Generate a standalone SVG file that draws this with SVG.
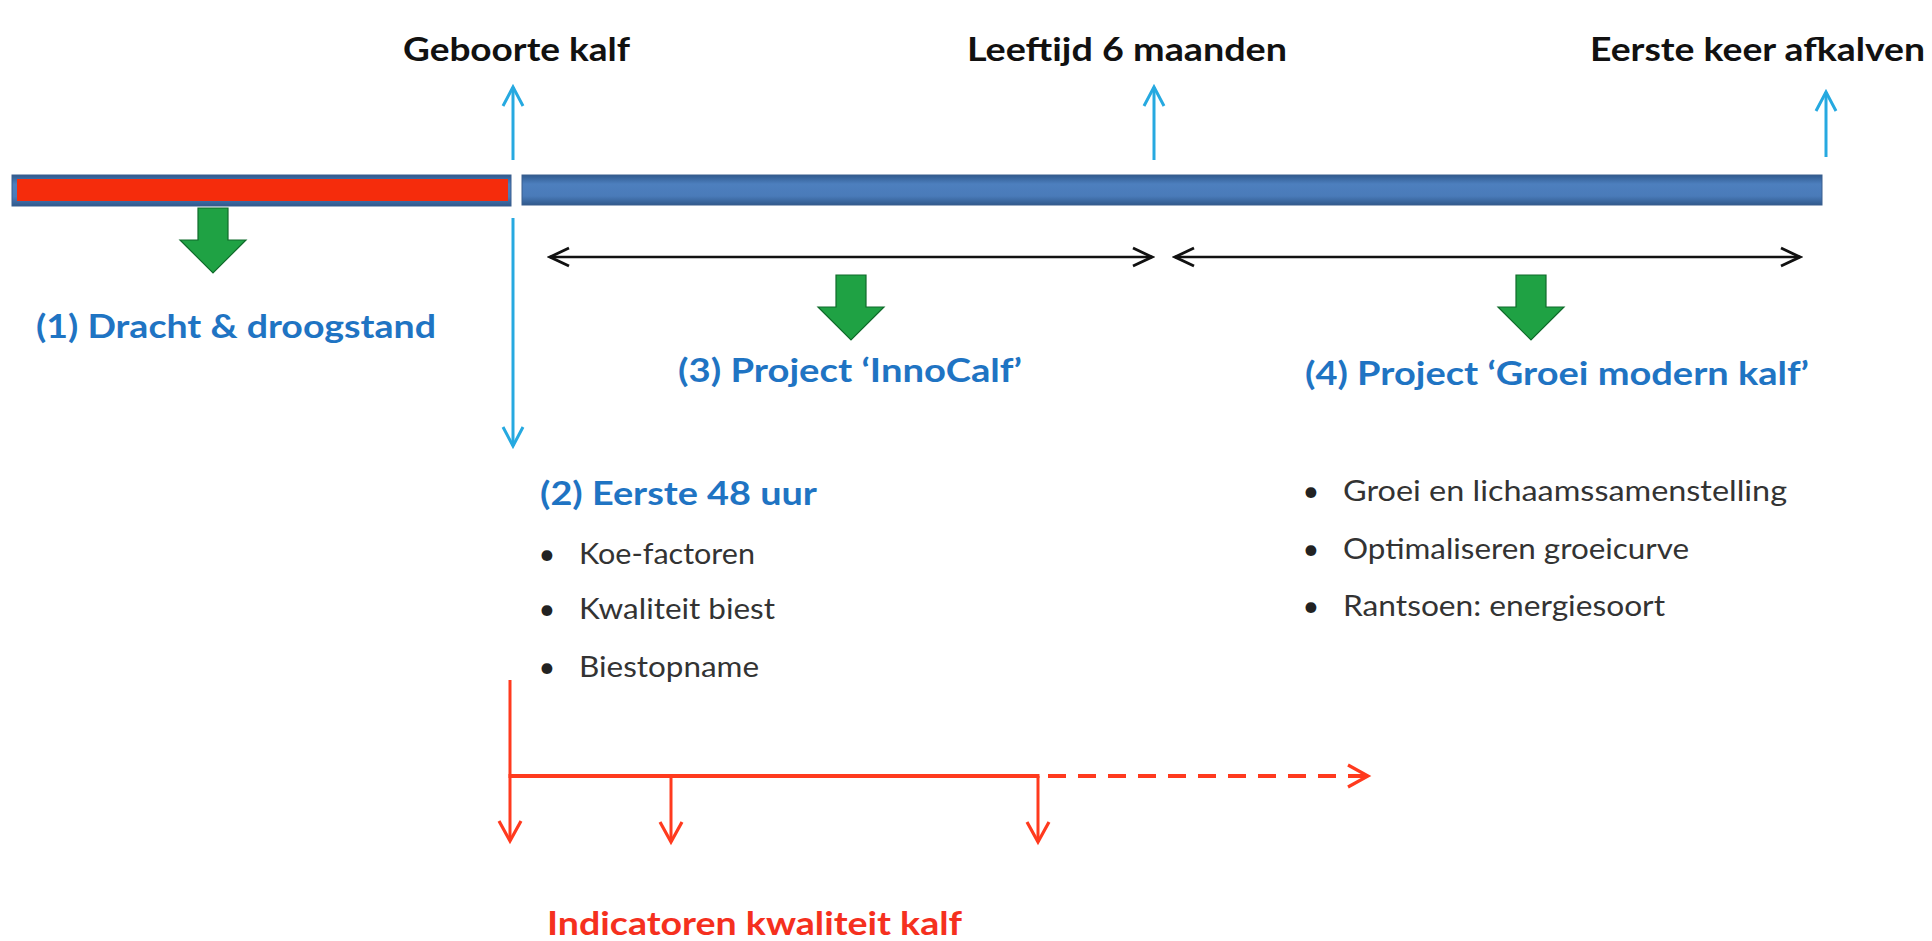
<svg xmlns="http://www.w3.org/2000/svg" width="1932" height="941" viewBox="0 0 1932 941">
<style>
.lbl{font-family:Lato,"Liberation Sans",sans-serif;font-weight:bold;font-size:32px;fill:#111;}
.hd{font-family:Lato,"Liberation Sans",sans-serif;font-weight:bold;font-size:32px;fill:#1F74C3;}
.red{font-family:Lato,"Liberation Sans",sans-serif;font-weight:bold;font-size:32px;fill:#F5301E;}
.bt{font-family:Lato,"Liberation Sans",sans-serif;font-size:29px;fill:#333;}
.bul{font-family:Lato,"Liberation Sans",sans-serif;font-size:29px;fill:#222;text-anchor:middle;}
.bl{stroke:#26A9E0;stroke-width:3;fill:none;}
.bk{stroke:#111;stroke-width:2.6;fill:none;}
.rd{stroke:#FF3A1E;stroke-width:3;fill:none;}
.ga{fill:#1FA244;stroke:#0F6A2A;stroke-width:1.2;}
</style>
<defs>
<linearGradient id="barG" x1="0" y1="0" x2="0" y2="1">
<stop offset="0" stop-color="#2F5A8E"/>
<stop offset="0.3" stop-color="#4D7FBE"/>
<stop offset="0.7" stop-color="#4A7BB9"/>
<stop offset="1" stop-color="#30598C"/>
</linearGradient>
<marker id="mBl" viewBox="0 0 24 24" refX="21" refY="12" markerWidth="24" markerHeight="24" markerUnits="userSpaceOnUse" orient="auto">
<path d="M2,2 L21,12 L2,22" fill="none" stroke="#26A9E0" stroke-width="3"/>
</marker>
<marker id="mBk" viewBox="0 0 24 24" refX="21" refY="12" markerWidth="24" markerHeight="24" markerUnits="userSpaceOnUse" orient="auto-start-reverse">
<path d="M2,3 L21,12 L2,21" fill="none" stroke="#111" stroke-width="2.8"/>
</marker>
<marker id="mRd" viewBox="0 0 26 26" refX="22" refY="13" markerWidth="26" markerHeight="26" markerUnits="userSpaceOnUse" orient="auto">
<path d="M2,2 L22,13 L2,24" fill="none" stroke="#FF3A1E" stroke-width="3.2"/>
</marker>
<path id="green" d="M-15,0 h30 v32 h18 l-33,33 l-33,-33 h18 z"/>
</defs>

<g id="timeline">
<rect x="12" y="175" width="499" height="31" fill="url(#barG)" stroke="#3A5F8E" stroke-width="1"/>
<rect x="17" y="179" width="491" height="22" fill="#F52C0C"/>
<rect x="522" y="175" width="1300" height="30" fill="url(#barG)" stroke="#3A5F8E" stroke-width="1"/>
</g>

<g id="connectors">
<line class="bl" x1="513" y1="160" x2="513" y2="87" marker-end="url(#mBl)"/>
<line class="bl" x1="1154" y1="160" x2="1154" y2="87" marker-end="url(#mBl)"/>
<line class="bl" x1="1826" y1="157" x2="1826" y2="92" marker-end="url(#mBl)"/>
<line class="bl" x1="513" y1="218" x2="513" y2="446" marker-end="url(#mBl)"/>
<line class="bk" x1="550" y1="257" x2="1152" y2="257" marker-start="url(#mBk)" marker-end="url(#mBk)"/>
<line class="bk" x1="1175" y1="257" x2="1800" y2="257" marker-start="url(#mBk)" marker-end="url(#mBk)"/>
<line class="rd" x1="510" y1="680" x2="510" y2="841" marker-end="url(#mRd)"/>
<line class="rd" x1="508.5" y1="776" x2="1039.5" y2="776" style="stroke-width:4"/>
<line class="rd" x1="671" y1="776" x2="671" y2="842" marker-end="url(#mRd)"/>
<line class="rd" x1="1038" y1="776" x2="1038" y2="842" marker-end="url(#mRd)"/>
<line class="rd" x1="1048" y1="776" x2="1368" y2="776" style="stroke-width:4" stroke-dasharray="18 12" marker-end="url(#mRd)"/>
</g>

<g id="milestone-geboorte"><text class="lbl" x="403" y="61" textLength="227" lengthAdjust="spacingAndGlyphs">Geboorte kalf</text></g>
<g id="milestone-6maanden"><text class="lbl" x="967" y="61" textLength="320" lengthAdjust="spacingAndGlyphs">Leeftijd 6 maanden</text></g>
<g id="milestone-afkalven"><text class="lbl" x="1590" y="61" textLength="335" lengthAdjust="spacingAndGlyphs">Eerste keer afkalven</text></g>

<g id="phase1">
<use href="#green" x="213" y="208" class="ga"/>
<text class="hd" x="36" y="338" textLength="400" lengthAdjust="spacingAndGlyphs">(1) Dracht &amp; droogstand</text>
</g>

<g id="phase2">
<text class="hd" x="540" y="505" textLength="277" lengthAdjust="spacingAndGlyphs">(2) Eerste 48 uur</text>
<text class="bul" x="547" y="564">•</text>
<text class="bt" x="579" y="564" textLength="176" lengthAdjust="spacingAndGlyphs">Koe-factoren</text>
<text class="bul" x="547" y="619">•</text>
<text class="bt" x="579" y="619" textLength="196" lengthAdjust="spacingAndGlyphs">Kwaliteit biest</text>
<text class="bul" x="547" y="677">•</text>
<text class="bt" x="579" y="677" textLength="180" lengthAdjust="spacingAndGlyphs">Biestopname</text>
</g>

<g id="phase3">
<use href="#green" x="851" y="275" class="ga"/>
<text class="hd" x="678" y="382" textLength="344" lengthAdjust="spacingAndGlyphs">(3) Project ‘InnoCalf’</text>
</g>

<g id="phase4">
<use href="#green" x="1531" y="275" class="ga"/>
<text class="hd" x="1305" y="385" textLength="504" lengthAdjust="spacingAndGlyphs">(4) Project ‘Groei modern kalf’</text>
<text class="bul" x="1311" y="501">•</text>
<text class="bt" x="1343" y="501" textLength="444" lengthAdjust="spacingAndGlyphs">Groei en lichaamssamenstelling</text>
<text class="bul" x="1311" y="559">•</text>
<text class="bt" x="1343" y="559" textLength="346" lengthAdjust="spacingAndGlyphs">Optimaliseren groeicurve</text>
<text class="bul" x="1311" y="616">•</text>
<text class="bt" x="1343" y="616" textLength="322" lengthAdjust="spacingAndGlyphs">Rantsoen: energiesoort</text>
</g>

<g id="indicators">
<text class="red" x="547" y="935" textLength="415" lengthAdjust="spacingAndGlyphs">Indicatoren kwaliteit kalf</text>
</g>
</svg>
